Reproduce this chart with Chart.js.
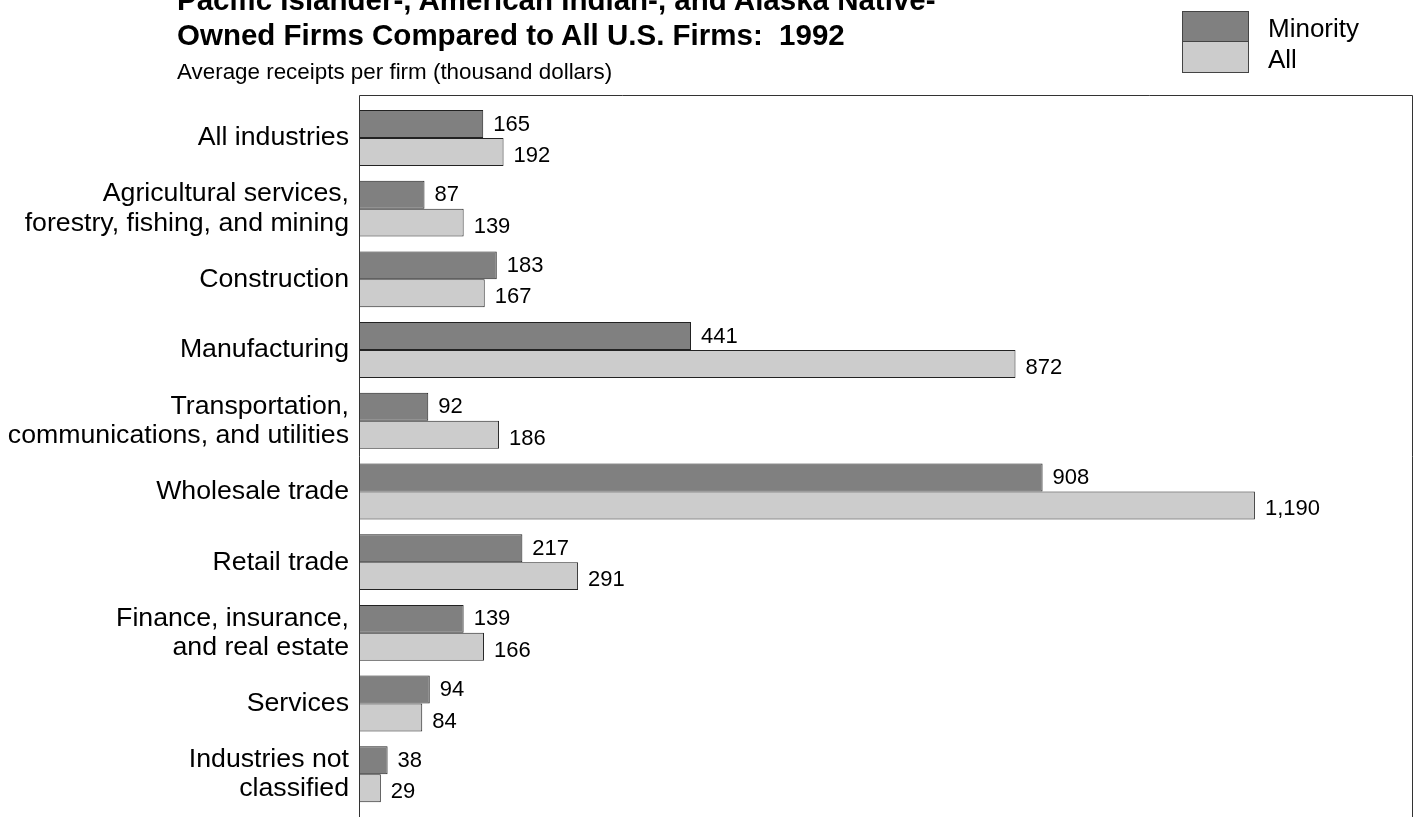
<!DOCTYPE html>
<html>
<head>
<meta charset="utf-8">
<script src="https://cdn.jsdelivr.net/npm/chart.js@4/dist/chart.umd.min.js"></script>
<style>
  body { margin: 0; background: #fff; font-family: "Liberation Sans", Arial, sans-serif; }
  #wrap { position: relative; width: 1416px; height: 817px; overflow: hidden; }
  #chart { position: absolute; left: 0; top: 0; }
  .title { position: absolute; left: 177px; top: -17.7px; font-size: 29.5px; font-weight: bold; line-height: 35px; color: #000; white-space: nowrap; }
  .subtitle { position: absolute; left: 177px; top: 59px; font-size: 22.4px; line-height: 26px; color: #000; white-space: nowrap; }
  .swatch { position: absolute; left: 1182px; width: 65px; border: 1px solid #444; }
  .legtext { position: absolute; left: 1268px; top: 12.5px; font-size: 26px; line-height: 31px; color: #000; }
</style>
</head>
<body>
<div id="wrap">
  <canvas id="chart" width="1416" height="817"></canvas>
  <div class="title">Pacific Islander-, American Indian-, and Alaska Native-<br>Owned Firms Compared to All U.S. Firms:&nbsp; 1992</div>
  <div class="subtitle">Average receipts per firm (thousand dollars)</div>
  <div class="swatch" style="top:11px;height:29px;background:#808080;"></div>
  <div class="swatch" style="top:41px;height:30px;background:#cccccc;"></div>
  <div class="legtext">Minority<br>All</div>
</div>
<script>
// categories (multi-line labels)
const categories = [
  "All industries",
  ["Agricultural services,", "forestry, fishing, and mining"],
  "Construction",
  "Manufacturing",
  ["Transportation,", "communications, and utilities"],
  "Wholesale trade",
  "Retail trade",
  ["Finance, insurance,", "and real estate"],
  "Services",
  ["Industries not", "classified"]
];
const minority = [165, 87, 183, 441, 92, 908, 217, 139, 94, 38];
const allFirms = [192, 139, 167, 872, 186, 1190, 291, 166, 84, 29];

// plot frame: open at the bottom, like the original
const framePlugin = {
  id: "frame",
  afterDraw(chart) {
    const ctx = chart.ctx;
    const a = chart.chartArea;
    ctx.save();
    ctx.strokeStyle = "#333";
    ctx.lineWidth = 1;
    ctx.beginPath();
    ctx.moveTo(a.left + 0.5, chart.height);
    ctx.lineTo(a.left + 0.5, 95.5);
    ctx.lineTo(a.right - 0.5, 95.5);
    ctx.lineTo(a.right - 0.5, chart.height);
    ctx.stroke();
    ctx.restore();
  }
};

// value labels to the right of each bar
const valueLabels = {
  id: "valueLabels",
  afterDatasetsDraw(chart) {
    const ctx = chart.ctx;
    ctx.save();
    ctx.font = "22px 'Liberation Sans', Arial, sans-serif";
    ctx.fillStyle = "#000";
    ctx.textAlign = "left";
    ctx.textBaseline = "middle";
    chart.data.datasets.forEach((ds, i) => {
      const shift = i === 0 ? 0.5 : 4;
      chart.getDatasetMeta(i).data.forEach((bar, j) => {
        ctx.fillText(ds.data[j].toLocaleString("en-US"), bar.x + 10, bar.y + shift);
      });
    });
    ctx.restore();
  }
};

new Chart(document.getElementById("chart"), {
  type: "bar",
  data: {
    labels: categories,
    datasets: [
      { label: "Minority", data: minority, backgroundColor: "#808080", borderColor: "#222", borderWidth: 1 },
      { label: "All", data: allFirms, backgroundColor: "#cccccc", borderColor: "#222", borderWidth: 1 }
    ]
  },
  options: {
    indexAxis: "y",
    responsive: false,
    animation: false,
    layout: { padding: { left: 0, right: 3, top: 102.6, bottom: 7.4 } },
    datasets: { bar: { barPercentage: 1, categoryPercentage: 0.79 } },
    scales: {
      x: { display: false, min: 0, max: 1400 },
      y: {
        grid: { display: false, drawTicks: false },
        border: { display: false },
        afterFit(scale) {
          scale.width = 359;
          scale.paddingTop = 0;
          scale.paddingBottom = 0;
        },
        ticks: {
          padding: 10,
          color: "#000",
          font: { family: "'Liberation Sans', Arial, sans-serif", size: 26.7, lineHeight: 1.09 }
        }
      }
    },
    plugins: { legend: { display: false }, tooltip: { enabled: false } }
  },
  plugins: [framePlugin, valueLabels]
});
</script>
</body>
</html>
